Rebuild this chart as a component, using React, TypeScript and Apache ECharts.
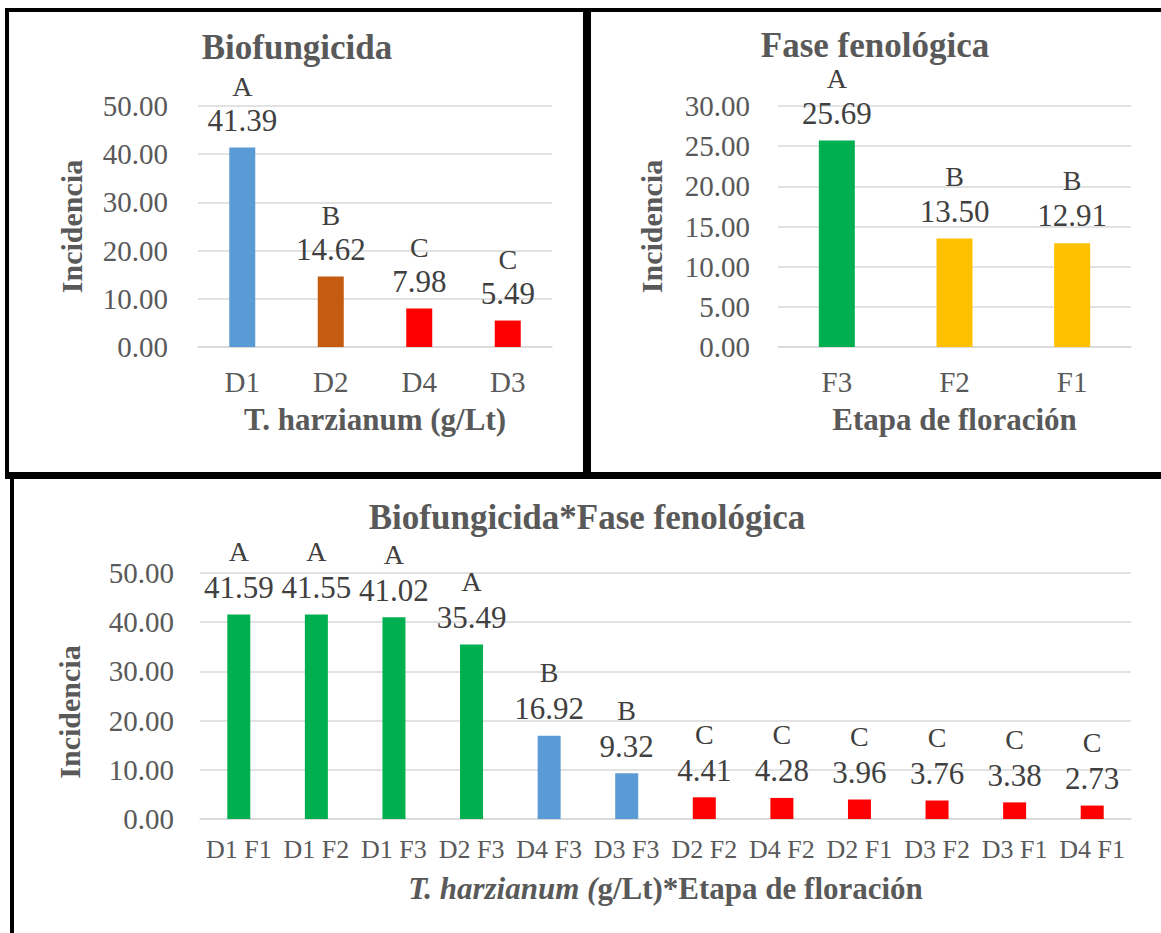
import React, { useEffect, useRef } from "react";
import * as echarts from "echarts";

// ---- Data ----
const bioCategories = ["D1", "D2", "D4", "D3"];
const bioValues = [41.39, 14.62, 7.98, 5.49];
const bioLetters = ["A", "B", "C", "C"];

const phaseCategories = ["F3", "F2", "F1"];
const phaseValues = [25.69, 13.5, 12.91];
const phaseLetters = ["A", "B", "B"];

const comboCategories = [
  "D1 F1", "D1 F2", "D1 F3", "D2 F3", "D4 F3", "D3 F3",
  "D2 F2", "D4 F2", "D2 F1", "D3 F2", "D3 F1", "D4 F1",
];
const comboValues = [41.59, 41.55, 41.02, 35.49, 16.92, 9.32, 4.41, 4.28, 3.96, 3.76, 3.38, 2.73];
const comboLetters = ["A", "A", "A", "A", "B", "B", "C", "C", "C", "C", "C", "C"];

// ---- Styles ----
const bioColors = ["#5B9BD5", "#C55A11", "#FF0000", "#FF0000"];
const phaseColors = ["#00B050", "#FFC000", "#FFC000"];
const comboColors = [
  "#00B050", "#00B050", "#00B050", "#00B050", "#5B9BD5", "#5B9BD5",
  "#FF0000", "#FF0000", "#FF0000", "#FF0000", "#FF0000", "#FF0000",
];

const FONT = "Liberation Serif";
const AXIS_GRAY = "#595959";
const LABEL_DARK = "#404040";
const GRID_GRAY = "#D9D9D9";

function makeLabel(letters: string[], lineHeight: number, distance: number) {
  return {
    show: true,
    position: "top",
    distance,
    fontFamily: FONT,
    formatter: (p: any) => `{l|${letters[p.dataIndex]}}\n{v|${Number(p.value).toFixed(2)}}`,
    rich: {
      l: { fontFamily: FONT, fontSize: 28, color: LABEL_DARK, lineHeight },
      v: { fontFamily: FONT, fontSize: 31, color: LABEL_DARK, lineHeight },
    },
  };
}

function yAxisCfg(gridIndex: number, max: number, interval: number, margin: number, nameGap: number, namePad: number[]) {
  return {
    type: "value",
    gridIndex,
    min: 0,
    max,
    interval,
    name: "Incidencia",
    nameLocation: "middle",
    nameGap,
    nameTextStyle: {
      fontFamily: FONT,
      fontSize: 30,
      fontWeight: "bold",
      color: AXIS_GRAY,
      padding: namePad,
    },
    axisLine: { show: false },
    axisTick: { show: false },
    axisLabel: {
      fontFamily: FONT,
      fontSize: 29,
      color: AXIS_GRAY,
      margin,
      formatter: (v: number) => v.toFixed(2),
    },
    splitLine: { lineStyle: { color: GRID_GRAY, width: 1.5 } },
  };
}

function xAxisCfg(gridIndex: number, data: string[], name: any, fontSize: number, margin: number, nameGap: number, rich?: any) {
  return {
    type: "category",
    gridIndex,
    data,
    name,
    nameLocation: "middle",
    nameGap,
    nameTextStyle: {
      fontFamily: FONT,
      fontSize: 31,
      fontWeight: "bold",
      color: AXIS_GRAY,
      rich,
    },
    axisLine: { lineStyle: { color: GRID_GRAY, width: 1.5 } },
    axisTick: { show: false },
    axisLabel: {
      interval: 0,
      fontFamily: FONT,
      fontSize,
      color: AXIS_GRAY,
      margin,
    },
  };
}

export default function App() {
  const ref = useRef<HTMLDivElement>(null);

  useEffect(() => {
    if (!ref.current) return;
    const chart = echarts.init(ref.current, undefined, { renderer: "svg" });

    const titleStyle = { fontFamily: FONT, fontSize: 35, fontWeight: "bold", color: AXIS_GRAY };

    const option: any = {
      animation: false,
      backgroundColor: "#FFFFFF",
      textStyle: { fontFamily: FONT },
      title: [
        { text: "Biofungicida", left: 297, top: 30, textAlign: "center", padding: 0, textStyle: titleStyle },
        { text: "Fase fenológica", left: 875, top: 28, textAlign: "center", padding: 0, textStyle: titleStyle },
        { text: "Biofungicida*Fase fenológica", left: 587, top: 500, textAlign: "center", padding: 0, textStyle: titleStyle },
      ],
      grid: [
        { left: 198, top: 106, width: 354, height: 241 },
        { left: 778, top: 106, width: 353, height: 241 },
        { left: 200, top: 573, width: 931, height: 246 },
      ],
      xAxis: [
        xAxisCfg(0, bioCategories, "T. harzianum (g/Lt)", 29, 20, 57),
        xAxisCfg(1, phaseCategories, "Etapa de floración", 29, 20, 57),
        xAxisCfg(
          2,
          comboCategories,
          "{i|T. harzianum (}{b|g/Lt)*Etapa de floración}",
          26,
          17,
          54,
          {
            i: { fontFamily: FONT, fontSize: 31, fontWeight: "bold", fontStyle: "italic", color: AXIS_GRAY },
            b: { fontFamily: FONT, fontSize: 31, fontWeight: "bold", color: AXIS_GRAY },
          }
        ),
      ],
      yAxis: [
        yAxisCfg(0, 50, 10, 30, 112, [0, 0, 0, 0]),
        yAxisCfg(1, 30, 5, 28, 112, [0, 0, 0, 0]),
        yAxisCfg(2, 50, 10, 26, 116, [0, 32, 0, 0]),
      ],
      series: [
        {
          type: "bar",
          xAxisIndex: 0,
          yAxisIndex: 0,
          barWidth: 26,
          data: bioValues.map((v, i) => ({ value: v, itemStyle: { color: bioColors[i] } })),
          label: makeLabel(bioLetters, 34, 10),
        },
        {
          type: "bar",
          xAxisIndex: 1,
          yAxisIndex: 1,
          barWidth: 36,
          data: phaseValues.map((v, i) => ({ value: v, itemStyle: { color: phaseColors[i] } })),
          label: makeLabel(phaseLetters, 35, 10),
        },
        {
          type: "bar",
          xAxisIndex: 2,
          yAxisIndex: 2,
          barWidth: 23,
          data: comboValues.map((v, i) => ({ value: v, itemStyle: { color: comboColors[i] } })),
          label: makeLabel(comboLetters, 36, 9),
        },
      ],
      graphic: [
        { type: "rect", shape: { x: 5, y: 8, width: 1156, height: 4 }, style: { fill: "#000" } },
        { type: "rect", shape: { x: 5, y: 8, width: 4, height: 467 }, style: { fill: "#000" } },
        { type: "rect", shape: { x: 583, y: 8, width: 8, height: 471 }, style: { fill: "#000" } },
        { type: "rect", shape: { x: 5, y: 472, width: 1156, height: 7 }, style: { fill: "#000" } },
        { type: "rect", shape: { x: 10, y: 472, width: 4, height: 461 }, style: { fill: "#000" } },
      ],
    };

    chart.setOption(option);
    return () => chart.dispose();
  }, []);

  return (
    <div
      ref={ref}
      style={{ position: "absolute", left: 0, top: 0, width: 1161, height: 933 }}
    />
  );
}
